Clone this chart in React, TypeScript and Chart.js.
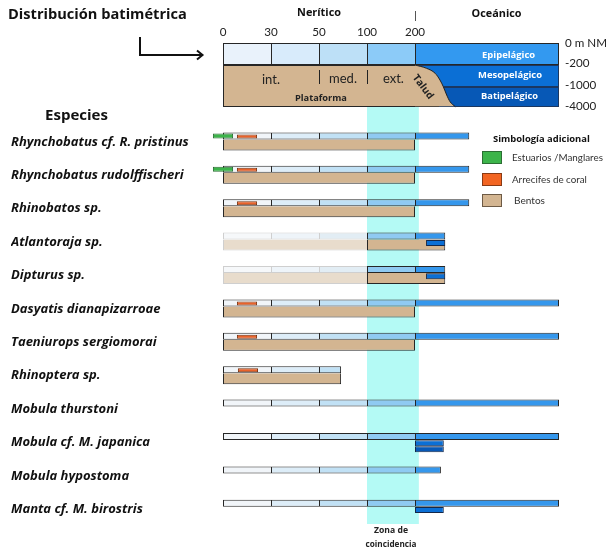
import { useEffect, useRef } from "react";
import { Chart, registerables } from "chart.js";

Chart.register(...registerables);

// ---------- data ----------
const species = [
  "Rhynchobatus cf. R. pristinus",
  "Rhynchobatus rudolffischeri",
  "Rhinobatos sp.",
  "Atlantoraja sp.",
  "Dipturus sp.",
  "Dasyatis dianapizarroae",
  "Taeniurops sergiomorai",
  "Rhinoptera sp.",
  "Mobula thurstoni",
  "Mobula cf. M. japanica",
  "Mobula hypostoma",
  "Manta cf. M. birostris",
];

// diagram x units: 0 = 0 m, 1 = 30 m, 2 = 50 m, 3 = 100 m, 4 = 200 m (shelf break), 7 = oceanic edge
const depthTicks = ["0", "30", "50", "100", "200"];
const zoneBounds = [0, 1, 2, 3, 4, 7];
const depthLevels = ["0 m NM", "-200", "-1000", "-4000"];

const pelagicEnd = [5.13, 5.13, 5.13, 4.63, 4.63, 7, 7, 2.46, 7, 7, 4.54, 7];
const benthicEnd = [4, 4, 4, 4.63, 4.63, 4, 4, 2.46, 0, 0, 0, 0];
const uncertainUntil = [0, 0, 0, 3, 3, 0, 0, 0, 0, 0, 0, 0];
const mesoRange: (number[] | null)[] = [null, null, null, [4.23, 4.63], [4.23, 4.63], null, null, null, null, [4, 4.6], null, [4, 4.6]];
const bathyRange: (number[] | null)[] = [null, null, null, null, null, null, null, null, null, [4, 4.6], null, null];
const estuaryRange: (number[] | null)[] = [[-0.21, 0.21], [-0.21, 0.21], null, null, null, null, null, null, null, null, null, null];
const coralRange: (number[] | null)[] = [[0.29, 0.71], [0.29, 0.71], [0.29, 0.71], null, null, [0.29, 0.71], [0.29, 0.71], [0.31, 0.73], null, null, null, null];
const overlapZone = [3, 4.08];

// talud (continental slope) profile in the header
const taludX = [4, 4.24, 4.42, 4.52, 4.59, 4.66, 4.73, 4.84];
const taludDepthPx = [65, 68.3, 73.3, 80, 86.7, 95, 101.7, 106.7];

const legendItems = ["Estuarios /Manglares", "Arrecifes de coral", "Bentos"];

// ---------- layout / style ----------
const FONT = "'Open Sans', 'Noto Sans', sans-serif";
const FONT_R = "Lato, 'Open Sans', sans-serif";
const PX = 33.4; // px per species row
const ORIGIN = 141.9; // px of the first row label
const yv = (p: number) => (p - ORIGIN) / PX;
const Y_MIN = yv(41);
const Y_MAX = yv(557);
const STRIP = -6 / PX;
const BENTHIC = 3 / PX;
const MESO = 0.8 / PX;
const BATHY = 6.8 / PX;

const rowZoneColors = ["#f1f5f9", "#ddedf8", "#c1e1f5", "#8fcaf2", "#3597ec"];
const rowZoneFaded = ["#f6f8fa", "#eef4f9", "#e2edf4", "#c9e3f5", "#a9d2f5"];
const headZoneColors = ["#e9f2fb", "#d8ebfb", "#bde0f7", "#8ccbf8", "#3399f0"];
const TAN = "#d3b591";
const TAN_FADED = "#e8dccc";
const MESO_C = "#0b6fd5";
const BATHY_C = "#0758b6";
const EDGE = "#262626";
const FADED_EDGE = "#cfcfcf";

let measureCtx: CanvasRenderingContext2D | null = null;
function fitSize(text: string, style: string, target: number, family = FONT) {
  if (!measureCtx) measureCtx = document.createElement("canvas").getContext("2d");
  const base = 20;
  measureCtx!.font = `${style} ${base}px ${family}`;
  return (base * target) / measureCtx!.measureText(text).width;
}

function buildData() {
  const strip: any[] = [];
  const benthic: any[] = [];
  const meso: any[] = [];
  const bathy: any[] = [];
  const estuary: any[] = [];
  const coral: any[] = [];
  species.forEach((_, i) => {
    for (let z = 0; z < 5; z++) {
      const a = zoneBounds[z];
      const b = Math.min(zoneBounds[z + 1], pelagicEnd[i]);
      if (b > a) strip.push({ x: [a, b], y: i + STRIP, zone: z, faded: b <= uncertainUntil[i], last: b === pelagicEnd[i] });
    }
    if (benthicEnd[i] > 0) {
      const u = uncertainUntil[i];
      if (u > 0) {
        benthic.push({ x: [0, u], y: i + BENTHIC, faded: true, last: false });
        benthic.push({ x: [u, benthicEnd[i]], y: i + BENTHIC, faded: false, last: true });
      } else {
        benthic.push({ x: [0, benthicEnd[i]], y: i + BENTHIC, faded: false, last: true });
      }
    }
    const m = mesoRange[i];
    if (m) meso.push({ x: m, y: i + MESO });
    const bt = bathyRange[i];
    if (bt) bathy.push({ x: bt, y: i + BATHY });
    const e = estuaryRange[i];
    if (e) estuary.push({ x: e, y: i + STRIP });
    const c = coralRange[i];
    if (c) coral.push({ x: c, y: i + STRIP + 0.5 / PX });
  });
  return { strip, benthic, meso, bathy, estuary, coral };
}

const annotations = {
  id: "diagramText",
  afterDraw(chart: any) {
    const { ctx } = chart;
    const xs = chart.scales.x;
    const X = (v: number) => xs.getPixelForValue(v);
    const put = (s: string, px: number, py: number, font: string, color: string, align: CanvasTextAlign) => {
      ctx.font = font;
      ctx.fillStyle = color;
      ctx.textAlign = align;
      ctx.textBaseline = "middle";
      ctx.fillText(s, px, py);
    };
    const txt = (s: string, px: number, py: number, style: string, width: number, color = "#111", align: CanvasTextAlign = "center", family = FONT) => {
      put(s, px, py, `${style} ${fitSize(s, style, width, family).toFixed(2)}px ${family}`, color, align);
    };
    ctx.save();
    // titles
    txt("Distribución batimétrica", 8, 15, "bold", 179, "#111", "left");
    txt("Especies", 76.5, 116, "bold", 63);
    // arrow
    ctx.strokeStyle = "#111";
    ctx.lineWidth = 2;
    ctx.beginPath();
    ctx.moveTo(140, 37);
    ctx.lineTo(140, 55);
    ctx.lineTo(202, 55);
    ctx.stroke();
    ctx.beginPath();
    ctx.moveTo(197, 50.5);
    ctx.lineTo(202.5, 55);
    ctx.lineTo(197, 59.5);
    ctx.stroke();
    // provinces
    txt("Nerítico", X(2), 13, "bold", 44);
    txt("Oceánico", X(5.7), 14, "bold", 50);
    ctx.strokeStyle = "#555";
    ctx.lineWidth = 1;
    ctx.beginPath();
    ctx.moveTo(Math.round(X(4)) + 0.5, 11);
    ctx.lineTo(Math.round(X(4)) + 0.5, 21);
    ctx.stroke();
    // shelf sub-zones
    put("int.", X(1), 80, `13px ${FONT_R}`, "#222", "center");
    put("med.", X(2.5), 79, `13px ${FONT_R}`, "#222", "center");
    put("ext.", X(3.55), 79, `13px ${FONT_R}`, "#222", "center");
    ctx.strokeStyle = "#222";
    [2, 3].forEach((v) => {
      const px = Math.round(X(v)) + 0.5;
      ctx.beginPath();
      ctx.moveTo(px, 70);
      ctx.lineTo(px, 84);
      ctx.stroke();
    });
    txt("Plataforma", X(2.04), 98, "bold", 52, "#222");
    ctx.save();
    ctx.translate(423, 87);
    ctx.rotate((53 * Math.PI) / 180);
    put("Talud", 0, 0, `bold 10px ${FONT}`, "#222", "center");
    ctx.restore();
    // pelagic layers
    txt("Epipelágico", X(5.95), 55, "bold", 53, "#fff");
    txt("Mesopelágico", X(5.98), 75, "bold", 64, "#fff");
    txt("Batipelágico", X(5.97), 96, "bold", 57, "#fff");
    // overlap zone
    txt("Zona de", X(3.5), 531, "bold", 34, "#222");
    txt("coincidencia", X(3.5), 545, "bold", 51, "#222");
    // legend
    txt("Simbología adicional", 493, 139, "bold", 97, "#111", "left");
    const boxes = [
      ["#3cb44a", "#2b6e33"],
      ["#f26522", "#8a3a14"],
      [TAN, "#6d5a45"],
    ];
    const ys = [151, 173, 194];
    const widths = [91, 75, 31];
    legendItems.forEach((label, k) => {
      ctx.fillStyle = boxes[k][1];
      ctx.fillRect(482, ys[k], 20, 13);
      ctx.fillStyle = boxes[k][0];
      ctx.fillRect(483, ys[k] + 1, 18, 11);
      txt(label, k === 2 ? 514 : 512, ys[k] + 6.5, "", widths[k], "#333", "left", FONT_R);
    });
    ctx.restore();
  },
};

export default function App() {
  const ref = useRef<HTMLCanvasElement>(null);
  useEffect(() => {
    const canvas = ref.current;
    if (!canvas) return;
    const d = buildData();
    const speciesSize = fitSize(species[0], "italic bold", 178);
    const tickSize = fitSize("0 m NM", "", 42, FONT_R);
    const zoneData = zoneBounds.slice(0, 5).map((a, z) => ({ x: [a, zoneBounds[z + 1]], y: yv(54), zone: z }));
    const common = { type: "bar" as const, grouped: false, borderSkipped: false, inflateAmount: 0 };
    const chart = new Chart(canvas, {
      type: "bar",
      data: {
        datasets: [
          { ...common, label: "Estuarios", data: d.estuary, barThickness: 5, backgroundColor: "#3cb44a", borderColor: "#2b6e33", borderWidth: 1 } as any,
          { ...common, label: "Coral", data: d.coral, barThickness: 4, backgroundColor: "#e9622a", borderColor: "#7a3512", borderWidth: 1 } as any,
          { ...common, label: "Meso", data: d.meso, barThickness: 6, backgroundColor: MESO_C, borderColor: "#14284a", borderWidth: 1 } as any,
          { ...common, label: "Bati", data: d.bathy, barThickness: 6, backgroundColor: BATHY_C, borderColor: "#14284a", borderWidth: 1 } as any,
          {
            ...common,
            label: "Pelágico",
            data: d.strip,
            barThickness: 7,
            backgroundColor: (c: any) => (c.raw ? (c.raw.faded ? rowZoneFaded[c.raw.zone] : rowZoneColors[c.raw.zone]) : "#fff"),
            borderColor: (c: any) => (c.raw && c.raw.faded ? FADED_EDGE : EDGE),
            borderWidth: (c: any) => ({ top: 1, bottom: 1, left: 1, right: c.raw && c.raw.last ? 1 : 0 }),
          } as any,
          {
            ...common,
            label: "Bentos",
            data: d.benthic,
            barThickness: 11,
            backgroundColor: (c: any) => (c.raw && c.raw.faded ? TAN_FADED : TAN),
            borderColor: (c: any) => (c.raw && c.raw.faded ? FADED_EDGE : EDGE),
            borderWidth: (c: any) => ({ top: 0, bottom: 1, left: 1, right: c.raw && c.raw.last ? 1 : 0 }),
          } as any,
          {
            type: "line",
            label: "Talud",
            indexAxis: "x",
            data: taludX.map((x, k) => ({ x, y: yv(taludDepthPx[k]) })),
            borderColor: "#222",
            borderWidth: 1,
            backgroundColor: TAN,
            fill: { value: yv(106.2) },
            pointRadius: 0,
            cubicInterpolationMode: "monotone",
          } as any,
          {
            ...common,
            label: "Zonas",
            data: zoneData,
            barThickness: 22,
            backgroundColor: (c: any) => (c.raw ? headZoneColors[c.raw.zone] : "#fff"),
            borderColor: EDGE,
            borderWidth: (c: any) => ({ top: 1, bottom: 1, left: 1, right: c.raw && c.raw.zone === 4 ? 1 : 0 }),
          } as any,
          { ...common, label: "Mesopelágico", data: [{ x: [4, 7], y: yv(76) }], barThickness: 22, backgroundColor: MESO_C, borderColor: "#1b3760", borderWidth: 1 } as any,
          { ...common, label: "Batipelágico", data: [{ x: [4.5, 7], y: yv(97) }], barThickness: 20, backgroundColor: BATHY_C, borderColor: "#1b3760", borderWidth: 1 } as any,
          {
            ...common,
            label: "Plataforma",
            data: [{ x: [0, 4.9], y: yv(86) }],
            barThickness: 42,
            backgroundColor: TAN,
            borderColor: EDGE,
            borderWidth: { top: 1, bottom: 1, left: 1, right: 0 },
          } as any,
          {
            ...common,
            label: "Zona de coincidencia",
            data: [{ x: overlapZone, y: yv((107 + 524) / 2) }],
            barThickness: 417,
            backgroundColor: "#b4faf5",
            borderWidth: 0,
          } as any,
        ],
      },
      options: {
        responsive: false,
        animation: false,
        indexAxis: "y",
        events: [],
        layout: { padding: { left: 11, right: 0, top: 0, bottom: 0 } },
        plugins: { legend: { display: false }, tooltip: { enabled: false } },
        scales: {
          x: {
            type: "linear",
            position: "top",
            min: -0.5,
            max: 7,
            offset: false,
            grid: { display: false, drawTicks: false },
            border: { display: false },
            afterBuildTicks: (s: any) => {
              s.ticks = depthTicks.map((_, i) => ({ value: i }));
            },
            afterFit: (s: any) => {
              s.height = 41;
              s.paddingLeft = 0;
              s.paddingRight = 0;
            },
            ticks: {
              autoSkip: false,
              maxRotation: 0,
              padding: 2,
              color: "#222",
              font: { family: FONT_R, size: tickSize },
              callback: (v: any) => depthTicks[v],
            },
          },
          y: {
            type: "linear",
            position: "left",
            reverse: true,
            min: Y_MIN,
            max: Y_MAX,
            offset: false,
            grid: { display: false, drawTicks: false, offset: false },
            border: { display: false },
            afterBuildTicks: (s: any) => {
              s.ticks = species.map((_, i) => ({ value: i }));
            },
            afterFit: (s: any) => {
              s.width = 188;
              s.paddingTop = 0;
              s.paddingBottom = 0;
            },
            ticks: {
              autoSkip: false,
              crossAlign: "far",
              color: "#111",
              font: { family: FONT, size: speciesSize, weight: "bold", style: "italic" },
              callback: (v: any) => species[v],
            },
          },
          y2: {
            type: "linear",
            position: "right",
            reverse: true,
            min: Y_MIN,
            max: Y_MAX,
            offset: false,
            grid: { display: false, drawTicks: false },
            border: { display: false },
            afterBuildTicks: (s: any) => {
              s.ticks = [43, 63, 85, 106].map((p) => ({ value: yv(p) }));
            },
            afterFit: (s: any) => {
              s.width = 54;
              s.paddingTop = 0;
              s.paddingBottom = 0;
            },
            ticks: {
              autoSkip: false,
              crossAlign: "near",
              padding: 6,
              color: "#222",
              font: { family: FONT_R, size: tickSize },
              callback: (_v: any, i: number) => depthLevels[i],
            },
          },
        },
      } as any,
      plugins: [annotations],
    });
    return () => chart.destroy();
  }, []);
  return (
    <div style={{ position: "fixed", left: 0, top: 0, width: 613, height: 557, background: "#fff" }}>
      <canvas ref={ref} width={613} height={557} style={{ display: "block" }} />
    </div>
  );
}
